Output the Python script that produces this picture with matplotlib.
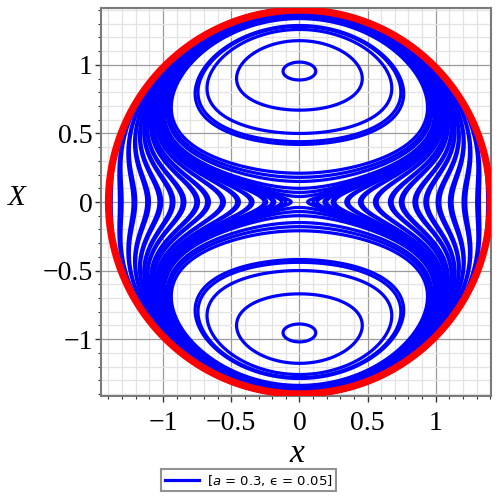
"""Phase portrait of the mean-field orbits inside the disc x^2 + X^2 <= 2."""

import matplotlib
matplotlib.use('Agg')
import matplotlib.pyplot as plt
from matplotlib.lines import Line2D
from matplotlib.ticker import MultipleLocator, FixedLocator
import numpy as np


# Parameters (from the legend)
A_PARAM = 0.3
EPS = 0.05
R_DISC = 1.40

# Where the side curves cross the line X = 0
side_x = [0.06, 0.10, 0.13, 0.18, 0.20, 0.24, 0.26, 0.34, 0.36, 0.44,
          0.46, 0.55, 0.57, 0.66, 0.68, 0.74, 0.76, 0.84, 0.86, 0.92,
          0.94, 1.01, 1.03, 1.10, 1.12, 1.20, 1.22, 1.30, 1.32, 1.38]

# Where the closed loops cross the line x = 0 (lower side of upper loops)
loop_X = [0.04, 0.07, 0.10, 0.15, 0.18, 0.21, 0.42, 0.44, 0.50, 0.67, 0.89]

tick_vals = [-1, -0.5, 0, 0.5, 1]
tick_text = ['\u22121', '\u22120.5', '0', '0.5', '1']


def energy(x, X, a, eps):
    """Energy eps*Jz - a*Jy^2 written in the disc coordinates."""
    r2 = x**2 + X**2
    return eps * (r2 - 1) - a * X**2 * (2 - r2)


# Levels that pass through the read crossings
levels = [energy(q, 0.0, A_PARAM, EPS) for q in side_x]
levels += [energy(0.0, p, A_PARAM, EPS) for p in loop_X]
levels = np.unique(np.round(levels, 6))

# Evaluate on a grid, blank outside the disc
g = np.linspace(-1.415, 1.415, 1001)
xx, yy = np.meshgrid(g, g)
hh = energy(xx, yy, A_PARAM, EPS)
hh[xx**2 + yy**2 > 2] = np.nan

fig = plt.figure(figsize=(5, 5), dpi=100)
ax = fig.add_axes([0.202, 0.208, 0.78, 0.776])

ax.contour(xx, yy, hh, levels=levels, colors='#0000ff', linewidths=2.3,
           linestyles='solid', zorder=2)

t = np.linspace(0, 2 * np.pi, 400)
ax.plot(R_DISC * np.cos(t), R_DISC * np.sin(t), color='#ff0000', lw=5.2,
        zorder=3)

ax.set_xlim(-1.455, 1.405)
ax.set_ylim(-1.415, 1.415)

# Grid and ticks
for axis in (ax.xaxis, ax.yaxis):
    axis.set_major_locator(FixedLocator(tick_vals))
    axis.set_minor_locator(MultipleLocator(0.1))
ax.grid(which='minor', color='#e3e3e3', lw=0.9, zorder=0)
ax.grid(which='major', color='#9a9a9a', lw=0.9, zorder=0)
ax.set_axisbelow(True)
ax.set_xticklabels(tick_text)
ax.set_yticklabels(tick_text)
ax.tick_params(which='major', length=4, width=1, color='#333333')
ax.tick_params(which='minor', length=2.5, width=0.8, color='#333333')
ax.tick_params(axis='x', pad=7)
ax.tick_params(axis='y', pad=2)
for lab in ax.get_xticklabels() + ax.get_yticklabels():
    lab.set_family('Liberation Serif')
    lab.set_fontsize(20)
for sp in ax.spines.values():
    sp.set_color('#7a7a7a')
    sp.set_linewidth(1.5)

ax.set_xlabel('x', family='Liberation Serif', style='italic', fontsize=24,
              va='center')
ax.xaxis.set_label_coords(0.503, -0.15)
ax.set_ylabel('X', family='Liberation Serif', style='italic', fontsize=21,
              rotation=0, va='center', ha='center')
ax.yaxis.set_label_coords(-0.215, 0.51)

handle = Line2D([], [], color='#0000ff', lw=2.3)
leg = fig.legend([handle], ['[$a$ = 0.3, \u03f5 = 0.05]'],
                 loc='center', bbox_to_anchor=(0.497, 0.04), fontsize=9.5,
                 frameon=True, fancybox=False, handlelength=2.6,
                 borderpad=0.25, handletextpad=0.6)
leg.get_frame().set_edgecolor('#777777')
leg.get_frame().set_linewidth(1.5)

fig.savefig('out.png', dpi=100)
